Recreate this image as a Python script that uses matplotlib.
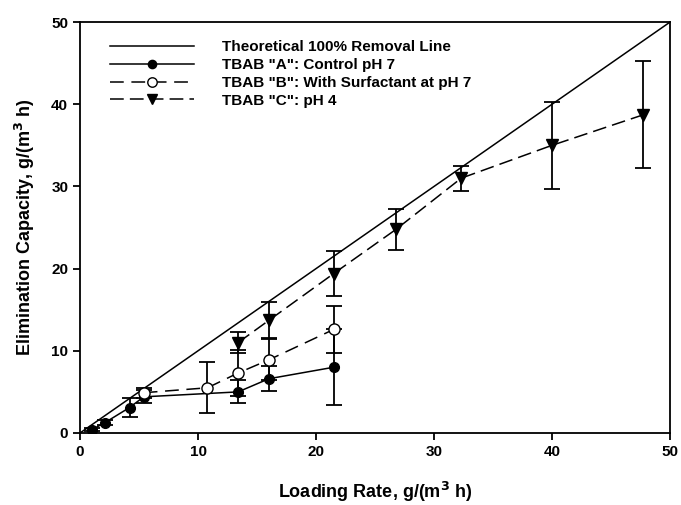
import matplotlib.pyplot as plt

plt.rcParams['font.family'] = ['Liberation Sans', 'DejaVu Sans']
plt.rcParams['font.weight'] = 'bold'

theory_x = [0, 50]
theory_y = [0, 50]

a_x = [1.0, 2.1, 4.2, 5.4, 13.4, 16.0, 21.5]
a_y = [0.4, 1.25, 3.1, 4.4, 5.0, 6.6, 8.0]
a_err = [0.2, 0.3, 1.2, 0.8, 1.4, 1.5, 4.6]

b_x = [5.4, 10.8, 13.4, 16.0, 21.5]
b_y = [4.9, 5.5, 7.3, 8.9, 12.6]
b_err = [0.6, 3.1, 2.8, 2.5, 2.9]

c_x = [13.4, 16.0, 21.5, 26.8, 32.3, 40.0, 47.7]
c_y = [11.0, 13.7, 19.4, 24.8, 31.0, 35.0, 38.7]
c_err = [1.3, 2.2, 2.7, 2.5, 1.5, 5.3, 6.5]

fig = plt.figure(figsize=(6.81, 5.05), dpi=100)
ax = fig.add_axes([0.1175, 0.1426, 0.8665, 0.8138])

ax.plot(theory_x, theory_y, color='black', lw=1.1, label='Theoretical 100% Removal Line')
ax.errorbar(a_x, a_y, yerr=a_err, fmt='-o', color='black', mfc='black', ms=7,
            lw=1.1, capsize=6, elinewidth=1.3, capthick=1.3, label='TBAB "A": Control pH 7')
ax.errorbar(b_x, b_y, yerr=b_err, fmt='o', ls=(0, (9, 5)), color='black', mfc='white', ms=8,
            lw=1.1, capsize=6, elinewidth=1.3, capthick=1.3, label='TBAB "B": With Surfactant at pH 7')
ax.errorbar(c_x, c_y, yerr=c_err, fmt='v', ls=(0, (9, 4)), color='black', mfc='black', ms=8,
            lw=1.1, capsize=6, elinewidth=1.3, capthick=1.3, label='TBAB "C": pH 4')

ax.set_xlim(0, 50)
ax.set_ylim(0, 50)
ax.set_xticks(range(0, 51, 10))
ax.set_yticks(range(0, 51, 10))
ax.tick_params(labelsize=11, width=1.3, length=5)
for s in ax.spines.values():
    s.set_linewidth(1.3)
ax.set_xlabel('Loading Rate, g/(m$^3$ h)', fontsize=13, fontweight='bold', labelpad=15)
ax.set_ylabel('Elimination Capacity, g/(m$^3$ h)', fontsize=13, fontweight='bold', labelpad=10)

handles, labels = ax.get_legend_handles_labels()
handles = [h[0] if isinstance(h, tuple) else h for h in handles]
ax.legend(handles, labels, loc='upper left', frameon=False, fontsize=11, handlelength=5.5,
          borderaxespad=0.8, labelspacing=0.25, handletextpad=1.8, bbox_to_anchor=(0.02, 1.0),
          markerscale=0.85)

plt.savefig('out.png', dpi=100)
